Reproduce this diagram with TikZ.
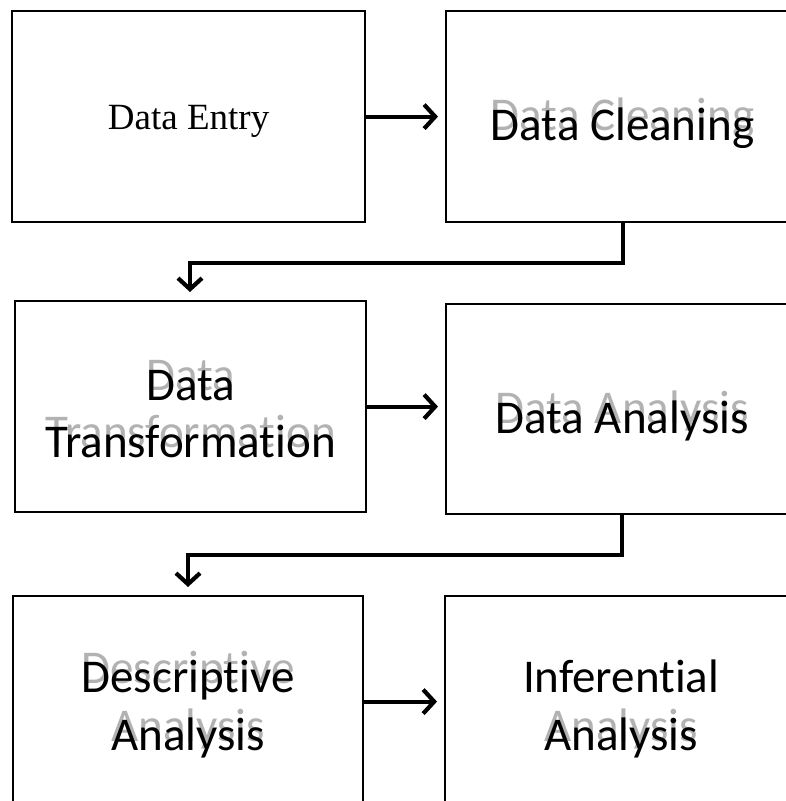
\documentclass[tikz,border=0pt]{standalone}
\usepackage{fontspec}
\setmainfont{Carlito}[Ligatures=NoCommon]
\newfontfamily\entryface{Liberation Serif}
\usetikzlibrary{arrows.meta,calc}
\begin{document}
\begin{tikzpicture}[x=1pt,y=-1pt,
  box/.style={draw, line width=2.2pt, inner sep=0pt, anchor=north west,
              minimum height=211pt},
  txt/.style={font=\fontsize{47}{56}\selectfont, anchor=base, inner sep=0pt},
  shade/.style={txt, text=black!30},
  conn/.style={line width=4.2pt, -{Straight Barb[length=11pt,width=24pt]}},
]
\useasboundingbox (0,0) rectangle (786,801);
\clip (0,0) rectangle (786,801);

% boxes
\node[box, minimum width=353pt] (b1) at (11,10) {};
\node[box, minimum width=353pt] (b2) at (445,10) {};
\node[box, minimum width=351pt] (b3) at (14,300) {};
\node[box, minimum width=352pt, minimum height=210pt] (b4) at (445,303) {};
\node[box, minimum width=350pt] (b5) at (12,595) {};
\node[box, minimum width=352pt] (b6) at (444,595) {};

% row 1
\node[txt, font=\entryface\fontsize{37}{44}\selectfont] (t1) at ($(b1.north)+(0,119)$) {Data Entry};
\node[shade] (g2) at ($(b2.north)+(0,120)$) {Data Cleaning};
\node[txt] (t2) at ($(b2.north)+(0,130)$) {Data Cleaning};

% row 2
\node[shade] (g3a) at ($(b3.north)+(0,90)$) {Data};
\node[shade] (g3b) at ($(b3.north)+(0,147)$) {Transformation};
\node[txt] (t3a) at ($(b3.north)+(0,100)$) {Data};
\node[txt] (t3b) at ($(b3.north)+(0,157)$) {Transformation};
\node[shade] (g4) at ($(b4.north)+(0,120)$) {Data Analysis};
\node[txt] (t4) at ($(b4.north)+(0,130)$) {Data Analysis};

% row 3
\node[shade] (g5a) at ($(b5.north)+(0,88)$) {Descriptive};
\node[shade] (g5b) at ($(b5.north)+(0,146)$) {Analysis};
\node[txt] (t5a) at ($(b5.north)+(0,97)$) {Descriptive};
\node[txt] (t5b) at ($(b5.north)+(0,155)$) {Analysis};
\node[shade] (g6b) at ($(b6.north)+(0,146)$) {Analysis};
\node[txt] (t6a) at ($(b6.north)+(0,97)$) {Inferential};
\node[txt] (t6b) at ($(b6.north)+(0,155)$) {Analysis};

% connectors
\draw[conn, shorten >=7pt] (b1.east) -- (b1.east -| b2.west);
\draw[conn, shorten >=7pt] (b3.east) -- (b3.east -| b4.west);
\draw[conn, shorten >=7pt] (b5.east) -- (b5.east -| b6.west);
\draw[conn, shorten >=8pt] (b2.south) -- ++(0,40) -| ([xshift=176pt]b3.north west);
\draw[conn, shorten >=8pt] (b4.south) -- ++(0,40) -| ([xshift=176pt]b5.north west);
\end{tikzpicture}
\end{document}
